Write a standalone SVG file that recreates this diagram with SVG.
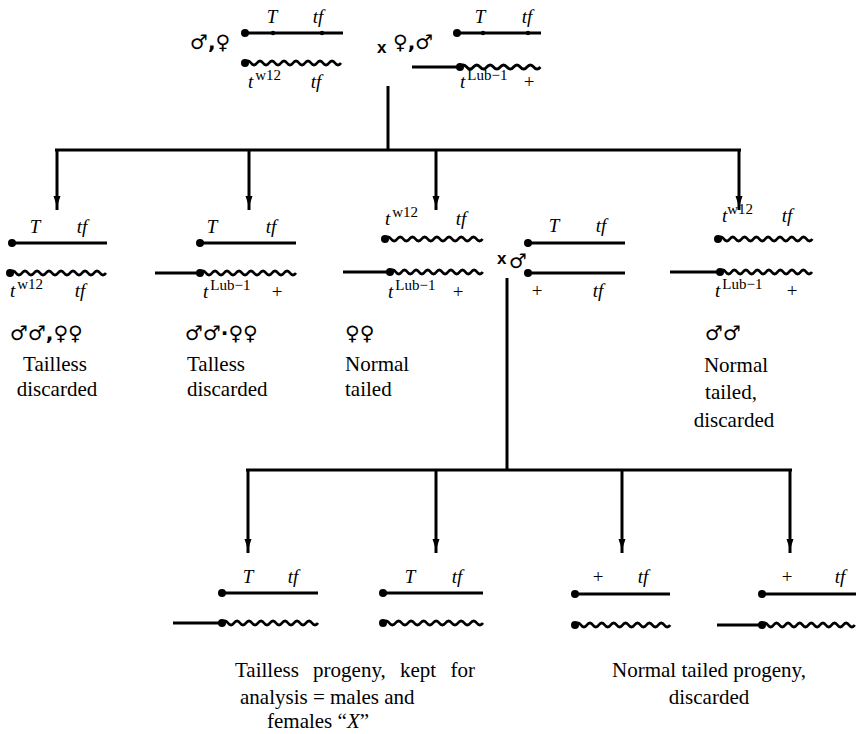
<svg xmlns="http://www.w3.org/2000/svg" width="857" height="734" viewBox="0 0 857 734">
<style>
.ch{stroke:#000;stroke-width:3;fill:none;stroke-linecap:butt}
.wv{stroke:#000;stroke-width:2.8;fill:none}
.tree{stroke:#000;stroke-width:3;fill:none}
.lbl{font-family:"Liberation Serif","Times New Roman",serif;font-style:italic;font-size:19px;fill:#000}
.sup{font-style:normal;font-size:15px}
.pl{font-family:"Liberation Serif","Times New Roman",serif;font-style:normal;font-size:19px;fill:#000}
.txt{font-family:"Liberation Serif","Times New Roman",serif;font-size:21px;fill:#000}
.sex{font-family:"DejaVu Sans",sans-serif;font-weight:bold;font-size:20px;fill:#000}
.xx{font-family:"Liberation Sans",sans-serif;font-weight:bold;font-size:17px;fill:#000}
</style>
<defs>
<marker id="arr" viewBox="0 -4 14 8" refX="14" refY="0" markerWidth="14" markerHeight="8" markerUnits="userSpaceOnUse" orient="auto">
<path d="M0,-3.5 Q6,-1 14,0 Q6,1 0,3.5 z" fill="#000"/>
</marker>
</defs>

<g id="connectors">
<line class="tree" x1="388" y1="86" x2="388" y2="150"/>
<line class="tree" x1="55" y1="150" x2="741" y2="150"/>
<line class="tree" x1="57" y1="150" x2="57" y2="210" marker-end="url(#arr)"/>
<line class="tree" x1="249" y1="150" x2="249" y2="210" marker-end="url(#arr)"/>
<line class="tree" x1="436" y1="150" x2="436" y2="210" marker-end="url(#arr)"/>
<line class="tree" x1="739" y1="150" x2="739" y2="210" marker-end="url(#arr)"/>
<line class="tree" x1="507" y1="278" x2="507" y2="470"/>
<line class="tree" x1="246" y1="470" x2="792" y2="470"/>
<line class="tree" x1="248" y1="470" x2="248" y2="553" marker-end="url(#arr)"/>
<line class="tree" x1="436" y1="470" x2="436" y2="553" marker-end="url(#arr)"/>
<line class="tree" x1="622" y1="470" x2="622" y2="553" marker-end="url(#arr)"/>
<line class="tree" x1="790" y1="470" x2="790" y2="553" marker-end="url(#arr)"/>
</g>

<g id="parent1">
<text class="sex" x="190" y="49">♂,♀</text>
<text class="lbl" x="272" y="23" text-anchor="middle">T</text>
<text class="lbl" x="318" y="23" text-anchor="middle">tf</text>
<line class="ch" x1="245" y1="33" x2="343" y2="33"/>
<circle cx="245" cy="33" r="4"/>
<circle cx="273" cy="33" r="2.2"/>
<circle cx="322" cy="33" r="2.2"/>
<path class="wv" d="M245,63 q3,-4 6,0 t6,0 t6,0 t6,0 t6,0 t6,0 t6,0 t6,0 t6,0 t6,0 t6,0 t6,0 t6,0 t6,0 t6,0 t6,0"/>
<circle cx="245" cy="63" r="4"/>
<text class="lbl" x="248" y="88">t<tspan class="sup" dy="-8" dx="2">w12</tspan></text>
<text class="lbl" x="316" y="88" text-anchor="middle">tf</text>
</g>

<g id="cross1">
<text class="xx" x="377" y="53">x</text>
</g>

<g id="parent2">
<text class="sex" x="393" y="49">♀,♂</text>
<text class="lbl" x="480" y="23" text-anchor="middle">T</text>
<text class="lbl" x="527" y="23" text-anchor="middle">tf</text>
<line class="ch" x1="457" y1="33" x2="541" y2="33"/>
<circle cx="457" cy="33" r="4"/>
<circle cx="483" cy="33" r="2.2"/>
<circle cx="528" cy="33" r="2.2"/>
<line class="ch" x1="412" y1="67" x2="460" y2="67"/>
<path class="wv" d="M460,67 q3.35,-4 6.7,0 t6.7,0 t6.7,0 t6.7,0 t6.7,0 t6.7,0 t6.7,0 t6.7,0 t6.7,0 t6.7,0 t6.7,0 t6.7,0"/>
<circle cx="460" cy="67" r="4"/>
<text class="lbl" x="460" y="88">t<tspan class="sup" dy="-8" dx="2">Lub−1</tspan></text>
<text class="pl" x="529" y="88" text-anchor="middle">+</text>
</g>

<g id="offspring1">
<text class="lbl" x="35" y="233" text-anchor="middle">T</text>
<text class="lbl" x="82" y="233" text-anchor="middle">tf</text>
<line class="ch" x1="12" y1="243" x2="107" y2="243"/>
<circle cx="12" cy="243" r="4"/>
<path class="wv" d="M10,273 q3,-4 6,0 t6,0 t6,0 t6,0 t6,0 t6,0 t6,0 t6,0 t6,0 t6,0 t6,0 t6,0 t6,0 t6,0 t6,0 t6,0"/>
<circle cx="10" cy="273" r="4"/>
<text class="lbl" x="10" y="297">t<tspan class="sup" dy="-8" dx="2">w12</tspan></text>
<text class="lbl" x="80" y="297" text-anchor="middle">tf</text>
<text class="sex" x="10" y="340">♂♂,♀♀</text>
<text class="txt" x="55" y="371" text-anchor="middle">Tailless</text>
<text class="txt" x="57" y="396" text-anchor="middle">discarded</text>
</g>

<g id="offspring2">
<text class="lbl" x="212" y="233" text-anchor="middle">T</text>
<text class="lbl" x="271" y="233" text-anchor="middle">tf</text>
<line class="ch" x1="200" y1="243" x2="296" y2="243"/>
<circle cx="200" cy="243" r="4"/>
<line class="ch" x1="155" y1="273" x2="200" y2="273"/>
<path class="wv" d="M200,273 q3,-4 6,0 t6,0 t6,0 t6,0 t6,0 t6,0 t6,0 t6,0 t6,0 t6,0 t6,0 t6,0 t6,0 t6,0 t6,0 t6,0"/>
<circle cx="200" cy="273" r="4"/>
<text class="lbl" x="203" y="298">t<tspan class="sup" dy="-8" dx="2">Lub−1</tspan></text>
<text class="pl" x="277" y="298" text-anchor="middle">+</text>
<text class="sex" x="185" y="340">♂♂·♀♀</text>
<text class="txt" x="187" y="371">Talless</text>
<text class="txt" x="187" y="396">discarded</text>
</g>

<g id="offspring3">
<path class="wv" d="M385,239 q3.05,-4 6.1,0 t6.1,0 t6.1,0 t6.1,0 t6.1,0 t6.1,0 t6.1,0 t6.1,0 t6.1,0 t6.1,0 t6.1,0 t6.1,0 t6.1,0 t6.1,0 t6.1,0 t6.1,0"/>
<circle cx="385" cy="239" r="4"/>
<text class="lbl" x="385" y="225">t<tspan class="sup" dy="-8" dx="2">w12</tspan></text>
<text class="lbl" x="461" y="225" text-anchor="middle">tf</text>
<line class="ch" x1="343" y1="272" x2="390" y2="272"/>
<path class="wv" d="M390,272 q2.9,-4 5.8,0 t5.8,0 t5.8,0 t5.8,0 t5.8,0 t5.8,0 t5.8,0 t5.8,0 t5.8,0 t5.8,0 t5.8,0 t5.8,0 t5.8,0 t5.8,0 t5.8,0 t5.8,0"/>
<circle cx="390" cy="272" r="4"/>
<text class="lbl" x="388" y="298">t<tspan class="sup" dy="-8" dx="2">Lub−1</tspan></text>
<text class="pl" x="458" y="298" text-anchor="middle">+</text>
<text class="sex" x="345" y="340">♀♀</text>
<text class="txt" x="345" y="371">Normal</text>
<text class="txt" x="345" y="396">tailed</text>
</g>

<g id="cross2">
<text class="xx" x="497" y="264">x</text>
<text class="sex" x="509" y="268">♂</text>
</g>

<g id="male-tester">
<text class="lbl" x="554" y="232" text-anchor="middle">T</text>
<text class="lbl" x="601" y="232" text-anchor="middle">tf</text>
<line class="ch" x1="528" y1="243" x2="625" y2="243"/>
<circle cx="528" cy="243" r="4"/>
<line class="ch" x1="528" y1="273" x2="625" y2="273"/>
<circle cx="528" cy="273" r="4"/>
<text class="pl" x="537" y="297" text-anchor="middle">+</text>
<text class="lbl" x="598" y="297" text-anchor="middle">tf</text>
</g>

<g id="offspring4">
<path class="wv" d="M718,239 q2.95,-4 5.9,0 t5.9,0 t5.9,0 t5.9,0 t5.9,0 t5.9,0 t5.9,0 t5.9,0 t5.9,0 t5.9,0 t5.9,0 t5.9,0 t5.9,0 t5.9,0 t5.9,0 t5.9,0"/>
<circle cx="718" cy="239" r="4"/>
<text class="lbl" x="722" y="222">t<tspan class="sup" dy="-8">w12</tspan></text>
<text class="lbl" x="787" y="222" text-anchor="middle">tf</text>
<line class="ch" x1="670" y1="272" x2="720" y2="272"/>
<path class="wv" d="M720,272 q2.875,-4 5.75,0 t5.75,0 t5.75,0 t5.75,0 t5.75,0 t5.75,0 t5.75,0 t5.75,0 t5.75,0 t5.75,0 t5.75,0 t5.75,0 t5.75,0 t5.75,0 t5.75,0 t5.75,0"/>
<circle cx="720" cy="272" r="4"/>
<text class="lbl" x="715" y="297">t<tspan class="sup" dy="-8" dx="2">Lub−1</tspan></text>
<text class="pl" x="792" y="297" text-anchor="middle">+</text>
<text class="sex" x="705" y="340">♂♂</text>
<text class="txt" x="736" y="372" text-anchor="middle">Normal</text>
<text class="txt" x="731" y="399" text-anchor="middle">tailed,</text>
<text class="txt" x="734" y="427" text-anchor="middle">discarded</text>
</g>

<g id="progeny1">
<text class="lbl" x="248" y="583" text-anchor="middle">T</text>
<text class="lbl" x="293" y="583" text-anchor="middle">tf</text>
<line class="ch" x1="222" y1="593" x2="318" y2="593"/>
<circle cx="222" cy="593" r="4"/>
<line class="ch" x1="173" y1="623" x2="222" y2="623"/>
<path class="wv" d="M222,623 q3,-4 6,0 t6,0 t6,0 t6,0 t6,0 t6,0 t6,0 t6,0 t6,0 t6,0 t6,0 t6,0 t6,0 t6,0 t6,0 t6,0"/>
<circle cx="222" cy="623" r="4"/>
</g>

<g id="progeny2">
<text class="lbl" x="410" y="583" text-anchor="middle">T</text>
<text class="lbl" x="457" y="583" text-anchor="middle">tf</text>
<line class="ch" x1="383" y1="593" x2="483" y2="593"/>
<circle cx="383" cy="593" r="4"/>
<path class="wv" d="M383,623 q3.125,-4 6.25,0 t6.25,0 t6.25,0 t6.25,0 t6.25,0 t6.25,0 t6.25,0 t6.25,0 t6.25,0 t6.25,0 t6.25,0 t6.25,0 t6.25,0 t6.25,0 t6.25,0 t6.25,0"/>
<circle cx="383" cy="623" r="4"/>
</g>

<g id="progeny3">
<text class="pl" x="598" y="583" text-anchor="middle">+</text>
<text class="lbl" x="643" y="583" text-anchor="middle">tf</text>
<line class="ch" x1="575" y1="594" x2="670" y2="594"/>
<circle cx="575" cy="594" r="4"/>
<path class="wv" d="M575,625 q2.975,-4 5.95,0 t5.95,0 t5.95,0 t5.95,0 t5.95,0 t5.95,0 t5.95,0 t5.95,0 t5.95,0 t5.95,0 t5.95,0 t5.95,0 t5.95,0 t5.95,0 t5.95,0 t5.95,0"/>
<circle cx="575" cy="625" r="4"/>
</g>

<g id="progeny4">
<text class="pl" x="787" y="583" text-anchor="middle">+</text>
<text class="lbl" x="840" y="583" text-anchor="middle">tf</text>
<line class="ch" x1="762" y1="594" x2="856" y2="594"/>
<circle cx="762" cy="594" r="4"/>
<line class="ch" x1="717" y1="625" x2="762" y2="625"/>
<path class="wv" d="M762,625 q2.9,-4 5.8,0 t5.8,0 t5.8,0 t5.8,0 t5.8,0 t5.8,0 t5.8,0 t5.8,0 t5.8,0 t5.8,0 t5.8,0 t5.8,0 t5.8,0 t5.8,0 t5.8,0 t5.8,0"/>
<circle cx="762" cy="625" r="4"/>
</g>

<g id="caption-kept">
<text class="txt" x="235" y="677" word-spacing="9">Tailless progeny, kept for</text>
<text class="txt" x="240" y="704">analysis = males and</text>
<text class="txt" x="267" y="728">females “<tspan font-style="italic">X</tspan>”</text>
</g>

<g id="caption-discarded">
<text class="txt" x="612" y="677">Normal tailed progeny,</text>
<text class="txt" x="709" y="704" text-anchor="middle">discarded</text>
</g>
</svg>
